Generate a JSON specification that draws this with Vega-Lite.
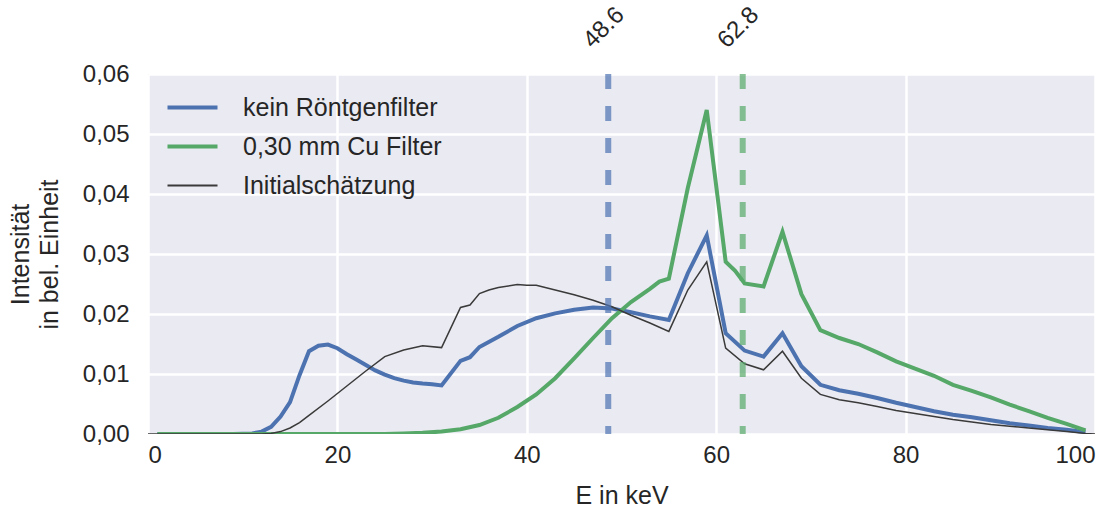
{
  "$schema": "https://vega.github.io/schema/vega-lite/v6.json",
  "width": 947,
  "height": 360,
  "autosize": {"type": "none"},
  "padding": {"left": 148, "top": 74, "right": 23, "bottom": 79},
  "background": "white",
  "config": {
    "view": {"fill": "#EAEAF2", "stroke": null},
    "font": "Liberation Sans",
    "axis": {
      "domain": false,
      "ticks": false,
      "gridColor": "white",
      "gridWidth": 2.5,
      "labelFont": "Liberation Sans",
      "labelFontSize": 24,
      "labelColor": "#262626",
      "titleFont": "Liberation Sans",
      "titleFontSize": 25,
      "titleFontWeight": "normal",
      "titleColor": "#262626"
    },
    "legend": {
      "orient": "none",
      "legendX": 32,
      "legendY": 21,
      "padding": 0,
      "labelFont": "Liberation Sans",
      "labelFontSize": 25,
      "labelColor": "#262626",
      "symbolType": "stroke",
      "symbolSize": 2500,
      "labelOffset": 38,
      "rowPadding": 13,
      "labelLimit": 400
    }
  },
  "datasets": {
    "spectra": [
      {"E": 1, "I": 0, "series": "kein Röntgenfilter"},
      {"E": 3, "I": 0, "series": "kein Röntgenfilter"},
      {"E": 5, "I": 0, "series": "kein Röntgenfilter"},
      {"E": 7, "I": 0, "series": "kein Röntgenfilter"},
      {"E": 9, "I": 0, "series": "kein Röntgenfilter"},
      {"E": 11, "I": 0.0001, "series": "kein Röntgenfilter"},
      {"E": 12, "I": 0.0004, "series": "kein Röntgenfilter"},
      {"E": 13, "I": 0.0012, "series": "kein Röntgenfilter"},
      {"E": 14, "I": 0.0029, "series": "kein Röntgenfilter"},
      {"E": 15, "I": 0.0053, "series": "kein Röntgenfilter"},
      {"E": 16, "I": 0.0098, "series": "kein Röntgenfilter"},
      {"E": 17, "I": 0.0138, "series": "kein Röntgenfilter"},
      {"E": 18, "I": 0.0147, "series": "kein Röntgenfilter"},
      {"E": 19, "I": 0.0149, "series": "kein Röntgenfilter"},
      {"E": 20, "I": 0.0143, "series": "kein Röntgenfilter"},
      {"E": 21, "I": 0.0133, "series": "kein Röntgenfilter"},
      {"E": 22, "I": 0.0124, "series": "kein Röntgenfilter"},
      {"E": 23, "I": 0.0115, "series": "kein Röntgenfilter"},
      {"E": 24, "I": 0.0106, "series": "kein Röntgenfilter"},
      {"E": 25, "I": 0.0099, "series": "kein Röntgenfilter"},
      {"E": 26, "I": 0.0093, "series": "kein Röntgenfilter"},
      {"E": 27, "I": 0.0089, "series": "kein Röntgenfilter"},
      {"E": 28, "I": 0.0086, "series": "kein Röntgenfilter"},
      {"E": 29, "I": 0.0084, "series": "kein Röntgenfilter"},
      {"E": 30, "I": 0.0083, "series": "kein Röntgenfilter"},
      {"E": 31, "I": 0.0081, "series": "kein Röntgenfilter"},
      {"E": 33, "I": 0.0122, "series": "kein Röntgenfilter"},
      {"E": 34, "I": 0.0128, "series": "kein Röntgenfilter"},
      {"E": 35, "I": 0.0145, "series": "kein Röntgenfilter"},
      {"E": 37, "I": 0.0162, "series": "kein Röntgenfilter"},
      {"E": 39, "I": 0.018, "series": "kein Röntgenfilter"},
      {"E": 41, "I": 0.0193, "series": "kein Röntgenfilter"},
      {"E": 43, "I": 0.0201, "series": "kein Röntgenfilter"},
      {"E": 45, "I": 0.0207, "series": "kein Röntgenfilter"},
      {"E": 47, "I": 0.0211, "series": "kein Röntgenfilter"},
      {"E": 49, "I": 0.0209, "series": "kein Röntgenfilter"},
      {"E": 51, "I": 0.0203, "series": "kein Röntgenfilter"},
      {"E": 53, "I": 0.0196, "series": "kein Röntgenfilter"},
      {"E": 55, "I": 0.019, "series": "kein Röntgenfilter"},
      {"E": 57, "I": 0.0268, "series": "kein Röntgenfilter"},
      {"E": 59, "I": 0.0331, "series": "kein Röntgenfilter"},
      {"E": 61, "I": 0.0168, "series": "kein Röntgenfilter"},
      {"E": 63, "I": 0.0139, "series": "kein Röntgenfilter"},
      {"E": 65, "I": 0.0129, "series": "kein Röntgenfilter"},
      {"E": 67, "I": 0.0168, "series": "kein Röntgenfilter"},
      {"E": 69, "I": 0.0113, "series": "kein Röntgenfilter"},
      {"E": 71, "I": 0.0082, "series": "kein Röntgenfilter"},
      {"E": 73, "I": 0.0073, "series": "kein Röntgenfilter"},
      {"E": 75, "I": 0.0067, "series": "kein Röntgenfilter"},
      {"E": 77, "I": 0.006, "series": "kein Röntgenfilter"},
      {"E": 79, "I": 0.0052, "series": "kein Röntgenfilter"},
      {"E": 81, "I": 0.0045, "series": "kein Röntgenfilter"},
      {"E": 83, "I": 0.0038, "series": "kein Röntgenfilter"},
      {"E": 85, "I": 0.0032, "series": "kein Röntgenfilter"},
      {"E": 87, "I": 0.0028, "series": "kein Röntgenfilter"},
      {"E": 89, "I": 0.0023, "series": "kein Röntgenfilter"},
      {"E": 91, "I": 0.0018, "series": "kein Röntgenfilter"},
      {"E": 93, "I": 0.0014, "series": "kein Röntgenfilter"},
      {"E": 95, "I": 0.001, "series": "kein Röntgenfilter"},
      {"E": 97, "I": 0.0007, "series": "kein Röntgenfilter"},
      {"E": 99, "I": 0.0003, "series": "kein Röntgenfilter"},

      {"E": 1, "I": 0, "series": "0,30 mm Cu Filter"},
      {"E": 5, "I": 0, "series": "0,30 mm Cu Filter"},
      {"E": 10, "I": 0, "series": "0,30 mm Cu Filter"},
      {"E": 15, "I": 0, "series": "0,30 mm Cu Filter"},
      {"E": 20, "I": 0, "series": "0,30 mm Cu Filter"},
      {"E": 25, "I": 0, "series": "0,30 mm Cu Filter"},
      {"E": 27, "I": 0.0001, "series": "0,30 mm Cu Filter"},
      {"E": 29, "I": 0.0002, "series": "0,30 mm Cu Filter"},
      {"E": 31, "I": 0.0004, "series": "0,30 mm Cu Filter"},
      {"E": 33, "I": 0.0008, "series": "0,30 mm Cu Filter"},
      {"E": 35, "I": 0.0015, "series": "0,30 mm Cu Filter"},
      {"E": 37, "I": 0.0027, "series": "0,30 mm Cu Filter"},
      {"E": 39, "I": 0.0045, "series": "0,30 mm Cu Filter"},
      {"E": 41, "I": 0.0066, "series": "0,30 mm Cu Filter"},
      {"E": 43, "I": 0.0093, "series": "0,30 mm Cu Filter"},
      {"E": 45, "I": 0.0126, "series": "0,30 mm Cu Filter"},
      {"E": 47, "I": 0.016, "series": "0,30 mm Cu Filter"},
      {"E": 49, "I": 0.0193, "series": "0,30 mm Cu Filter"},
      {"E": 51, "I": 0.022, "series": "0,30 mm Cu Filter"},
      {"E": 53, "I": 0.0242, "series": "0,30 mm Cu Filter"},
      {"E": 54, "I": 0.0254, "series": "0,30 mm Cu Filter"},
      {"E": 55, "I": 0.0259, "series": "0,30 mm Cu Filter"},
      {"E": 57, "I": 0.041, "series": "0,30 mm Cu Filter"},
      {"E": 59, "I": 0.054, "series": "0,30 mm Cu Filter"},
      {"E": 61, "I": 0.0287, "series": "0,30 mm Cu Filter"},
      {"E": 62, "I": 0.0272, "series": "0,30 mm Cu Filter"},
      {"E": 63, "I": 0.0251, "series": "0,30 mm Cu Filter"},
      {"E": 65, "I": 0.0246, "series": "0,30 mm Cu Filter"},
      {"E": 67, "I": 0.0337, "series": "0,30 mm Cu Filter"},
      {"E": 69, "I": 0.0233, "series": "0,30 mm Cu Filter"},
      {"E": 71, "I": 0.0173, "series": "0,30 mm Cu Filter"},
      {"E": 73, "I": 0.016, "series": "0,30 mm Cu Filter"},
      {"E": 75, "I": 0.015, "series": "0,30 mm Cu Filter"},
      {"E": 77, "I": 0.0136, "series": "0,30 mm Cu Filter"},
      {"E": 79, "I": 0.0121, "series": "0,30 mm Cu Filter"},
      {"E": 81, "I": 0.0109, "series": "0,30 mm Cu Filter"},
      {"E": 83, "I": 0.0097, "series": "0,30 mm Cu Filter"},
      {"E": 85, "I": 0.0082, "series": "0,30 mm Cu Filter"},
      {"E": 87, "I": 0.0072, "series": "0,30 mm Cu Filter"},
      {"E": 89, "I": 0.0061, "series": "0,30 mm Cu Filter"},
      {"E": 91, "I": 0.0049, "series": "0,30 mm Cu Filter"},
      {"E": 93, "I": 0.0038, "series": "0,30 mm Cu Filter"},
      {"E": 95, "I": 0.0027, "series": "0,30 mm Cu Filter"},
      {"E": 97, "I": 0.0017, "series": "0,30 mm Cu Filter"},
      {"E": 99, "I": 0.0006, "series": "0,30 mm Cu Filter"},

      {"E": 0, "I": 0, "series": "Initialschätzung"},
      {"E": 4, "I": 0, "series": "Initialschätzung"},
      {"E": 8, "I": 0, "series": "Initialschätzung"},
      {"E": 12, "I": 0, "series": "Initialschätzung"},
      {"E": 13, "I": 0.0001, "series": "Initialschätzung"},
      {"E": 14, "I": 0.0004, "series": "Initialschätzung"},
      {"E": 15, "I": 0.001, "series": "Initialschätzung"},
      {"E": 16, "I": 0.0019, "series": "Initialschätzung"},
      {"E": 17, "I": 0.0031, "series": "Initialschätzung"},
      {"E": 19, "I": 0.0055, "series": "Initialschätzung"},
      {"E": 21, "I": 0.008, "series": "Initialschätzung"},
      {"E": 23, "I": 0.0105, "series": "Initialschätzung"},
      {"E": 25, "I": 0.0129, "series": "Initialschätzung"},
      {"E": 27, "I": 0.014, "series": "Initialschätzung"},
      {"E": 29, "I": 0.0147, "series": "Initialschätzung"},
      {"E": 31, "I": 0.0144, "series": "Initialschätzung"},
      {"E": 33, "I": 0.0211, "series": "Initialschätzung"},
      {"E": 34, "I": 0.0215, "series": "Initialschätzung"},
      {"E": 35, "I": 0.0234, "series": "Initialschätzung"},
      {"E": 36, "I": 0.024, "series": "Initialschätzung"},
      {"E": 37, "I": 0.0244, "series": "Initialschätzung"},
      {"E": 39, "I": 0.0249, "series": "Initialschätzung"},
      {"E": 40, "I": 0.0248, "series": "Initialschätzung"},
      {"E": 41, "I": 0.0248, "series": "Initialschätzung"},
      {"E": 43, "I": 0.024, "series": "Initialschätzung"},
      {"E": 45, "I": 0.0232, "series": "Initialschätzung"},
      {"E": 47, "I": 0.0223, "series": "Initialschätzung"},
      {"E": 49, "I": 0.0212, "series": "Initialschätzung"},
      {"E": 51, "I": 0.0198, "series": "Initialschätzung"},
      {"E": 53, "I": 0.0185, "series": "Initialschätzung"},
      {"E": 55, "I": 0.0171, "series": "Initialschätzung"},
      {"E": 57, "I": 0.024, "series": "Initialschätzung"},
      {"E": 59, "I": 0.0287, "series": "Initialschätzung"},
      {"E": 61, "I": 0.0143, "series": "Initialschätzung"},
      {"E": 63, "I": 0.0117, "series": "Initialschätzung"},
      {"E": 65, "I": 0.0107, "series": "Initialschätzung"},
      {"E": 67, "I": 0.0138, "series": "Initialschätzung"},
      {"E": 69, "I": 0.0093, "series": "Initialschätzung"},
      {"E": 71, "I": 0.0066, "series": "Initialschätzung"},
      {"E": 73, "I": 0.0057, "series": "Initialschätzung"},
      {"E": 75, "I": 0.0052, "series": "Initialschätzung"},
      {"E": 77, "I": 0.0046, "series": "Initialschätzung"},
      {"E": 79, "I": 0.0039, "series": "Initialschätzung"},
      {"E": 81, "I": 0.0034, "series": "Initialschätzung"},
      {"E": 83, "I": 0.0029, "series": "Initialschätzung"},
      {"E": 85, "I": 0.0024, "series": "Initialschätzung"},
      {"E": 87, "I": 0.002, "series": "Initialschätzung"},
      {"E": 89, "I": 0.0016, "series": "Initialschätzung"},
      {"E": 91, "I": 0.0013, "series": "Initialschätzung"},
      {"E": 93, "I": 0.001, "series": "Initialschätzung"},
      {"E": 95, "I": 0.0007, "series": "Initialschätzung"},
      {"E": 97, "I": 0.0004, "series": "Initialschätzung"},
      {"E": 99, "I": 0.0001, "series": "Initialschätzung"},
      {"E": 100, "I": 0, "series": "Initialschätzung"}
    ],
    "markers": [
      {"E": 48.6, "label": "48.6", "filter": "kein"},
      {"E": 62.8, "label": "62.8", "filter": "Cu"}
    ]
  },
  "encoding": {
    "x": {
      "field": "E",
      "type": "quantitative",
      "scale": {"domain": [0, 100], "nice": false},
      "axis": {"values": [0, 20, 40, 60, 80, 100], "labelPadding": 9, "titlePadding": 16},
      "title": "E in keV"
    }
  },
  "layer": [
    {
      "data": {"name": "spectra"},
      "transform": [{"filter": "datum.series != 'Initialschätzung'"}],
      "mark": {"type": "line", "clip": true, "strokeWidth": 4},
      "encoding": {
        "y": {
          "field": "I",
          "type": "quantitative",
          "scale": {"domain": [0, 0.06], "nice": false},
          "axis": {
            "values": [0, 0.01, 0.02, 0.03, 0.04, 0.05, 0.06],
            "labelExpr": "replace(format(datum.value, '.2f'), '.', ',')",
            "labelPadding": 19,
            "titlePadding": 20,
            "titleLineHeight": 29
          },
          "title": ["Intensität", "in bel. Einheit"]
        },
        "color": {
          "field": "series",
          "type": "nominal",
          "scale": {
            "domain": ["kein Röntgenfilter", "0,30 mm Cu Filter", "Initialschätzung"],
            "range": ["#4C72B0", "#55A868", "#3a3a3a"]
          },
          "legend": {
            "title": null,
            "symbolType": "stroke",
            "symbolSize": 2500,
            "labelOffset": 38,
            "rowPadding": 13,
            "encode": {
              "symbols": {
                "update": {
                  "size": {"value": 2500},
                  "strokeWidth": {"signal": "datum.value === 'Initialschätzung' ? 2.2 : 4"}
                }
              }
            }
          }
        },
        "order": {"field": "E", "type": "quantitative"}
      }
    },
    {
      "data": {"name": "spectra"},
      "transform": [{"filter": "datum.series == 'Initialschätzung'"}],
      "mark": {"type": "line", "clip": true, "strokeWidth": 1.5},
      "encoding": {
        "y": {"field": "I", "type": "quantitative"},
        "color": {"field": "series", "type": "nominal"},
        "order": {"field": "E", "type": "quantitative"}
      }
    },
    {
      "data": {"name": "markers"},
      "transform": [{"filter": "datum.filter == 'kein'"}],
      "mark": {"type": "rule", "color": "#4C72B0", "opacity": 0.7, "strokeWidth": 6, "strokeDash": [15, 17]},
      "encoding": {}
    },
    {
      "data": {"name": "markers"},
      "transform": [{"filter": "datum.filter == 'Cu'"}],
      "mark": {"type": "rule", "color": "#55A868", "opacity": 0.7, "strokeWidth": 6, "strokeDash": [15, 17]},
      "encoding": {}
    },
    {
      "data": {"name": "markers"},
      "mark": {"type": "text", "angle": -45, "align": "center", "baseline": "middle", "fontSize": 24, "color": "#262626", "font": "Liberation Sans", "dx": -6, "clip": false},
      "encoding": {
        "y": {"datum": 0.0684},
        "text": {"field": "label"}
      }
    }
  ]
}
